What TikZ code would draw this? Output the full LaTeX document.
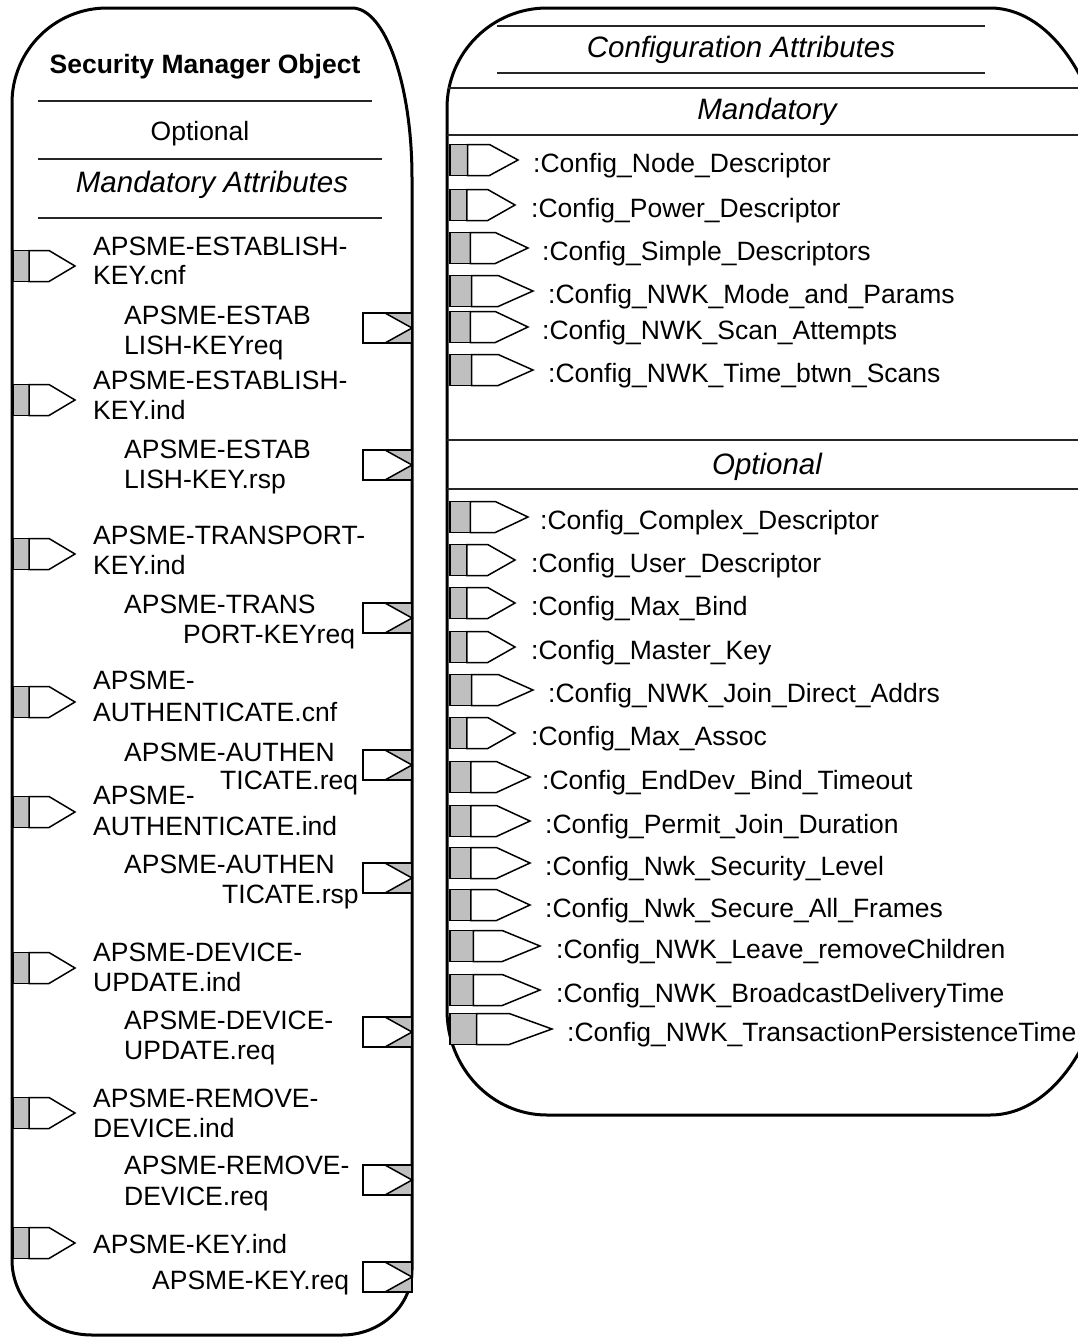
\documentclass[tikz,border=0pt]{standalone}
\usepackage{fontspec}
\setmainfont{Liberation Sans}
\newcommand\myinport[3]{%
  \pgfmathsetmacro\pa{#1+0.26*(#3-#1)}%
  \pgfmathsetmacro\pb{#1+0.58*(#3-#1)}%
  \fill[portgray] (#1,#2-15.5) rectangle (\pa,#2+15.5);
  \draw[portline] (\pa,#2-15.5) -- (#1,#2-15.5) -- (#1,#2+15.5) -- (\pa,#2+15.5);
  \draw[portline] (\pa,#2-15.5) -- (\pb,#2-15.5) -- (#3,#2) -- (\pb,#2+15.5) -- (\pa,#2+15.5) -- cycle;
}
\newcommand\myoutport[1]{%
  \fill[portgray] (385,#1-15) -- (412,#1-15) -- (412,#1) -- cycle;
  \fill[portgray] (385,#1+15) -- (412,#1+15) -- (412,#1) -- cycle;
  \draw[portline] (363,#1-15) rectangle (412,#1+15);
  \draw[portline] (385,#1-15) -- (412,#1) -- (385,#1+15);
}
\begin{document}
\begin{tikzpicture}[x=1pt,y=-1pt,
  outer/.style={line width=3pt, line join=round},
  sep/.style={line width=1.3pt, black!85},
  portline/.style={line width=1.5pt, line join=miter},
  portgray/.style={fill=black!25},
  lbl/.style={anchor=base west, inner sep=0pt, font=\fontsize{26.5}{30}\selectfont},
  head/.style={anchor=base, inner sep=0pt, font=\fontsize{29.5}{33}\selectfont\itshape},
  plain/.style={anchor=base, inner sep=0pt, font=\fontsize{26.5}{30}\selectfont}]
\useasboundingbox (0,0) rectangle (1078,1341);
\fill[white] (0,0) rectangle (1078,1341);
\clip (0,0) rectangle (1078,1341);

% ---------------- left box: Security Manager Object ----------------
\draw[outer] (12,103) .. controls (12,50.5) and (54.5,8) .. (107,8)
  -- (352,8) .. controls (385.1,8) and (412,84.1) .. (412,178)
  -- (412,1270) .. controls (412,1305.9) and (380.7,1335) .. (342,1335)
  -- (92,1335) .. controls (47.8,1335) and (12,1301.4) .. (12,1260) -- cycle;

\node[plain, font=\fontsize{26.5}{30}\selectfont\bfseries] (smo) at (205,73) {Security Manager Object};
\draw[sep] (38,101) -- (372,101);
\node[plain] (lopt) at (200,140) {Optional};
\draw[sep] (38,159) -- (382,159);
\node[head] (lmand) at (212,192.5) {Mandatory Attributes};
\draw[sep] (38,218) -- (382,218);

% input ports (left edge)
\myinport{13}{266}{75}
\myinport{13}{400}{75}
\myinport{13}{554}{75}
\myinport{13}{702}{75}
\myinport{13}{812}{75}
\myinport{13}{968}{75}
\myinport{13}{1113}{75}
\myinport{13}{1243}{75}
% output ports (right edge)
\myoutport{328}
\myoutport{465}
\myoutport{618}
\myoutport{765}
\myoutport{878}
\myoutport{1032}
\myoutport{1180}
\myoutport{1277}

\node[lbl] (a1) at (93,255.5) {APSME-ESTABLISH-};
\node[lbl] (a2) at (93,284.5) {KEY.cnf};
\node[lbl] (b1) at (124,324.5) {APSME-ESTAB};
\node[lbl] (b2) at (124,354.5) {LISH-KEYreq};
\node[lbl] (c1) at (93,389.5) {APSME-ESTABLISH-};
\node[lbl] (c2) at (93,419.5) {KEY.ind};
\node[lbl] (d1) at (124,458.5) {APSME-ESTAB};
\node[lbl] (d2) at (124,488.5) {LISH-KEY.rsp};
\node[lbl] (e1) at (93,544.5) {APSME-TRANSPORT-};
\node[lbl] (e2) at (93,574.5) {KEY.ind};
\node[lbl] (f1) at (124,613.5) {APSME-TRANS};
\node[lbl] (f2) at (183,643.5) {PORT-KEYreq};
\node[lbl] (g1) at (93,689.5) {APSME-};
\node[lbl] (g2) at (93,721.5) {AUTHENTICATE.cnf};
\node[lbl] (h1) at (124,761.5) {APSME-AUTHEN};
\node[lbl] (h2) at (220,789.5) {TICATE.req};
\node[lbl] (i1) at (93,804.5) {APSME-};
\node[lbl] (i2) at (93,835.5) {AUTHENTICATE.ind};
\node[lbl] (j1) at (124,873.5) {APSME-AUTHEN};
\node[lbl] (j2) at (222,903.5) {TICATE.rsp};
\node[lbl] (k1) at (93,961.5) {APSME-DEVICE-};
\node[lbl] (k2) at (93,991.5) {UPDATE.ind};
\node[lbl] (l1) at (124,1029.5) {APSME-DEVICE-};
\node[lbl] (l2) at (124,1059.5) {UPDATE.req};
\node[lbl] (m1) at (93,1107.5) {APSME-REMOVE-};
\node[lbl] (m2) at (93,1137.5) {DEVICE.ind};
\node[lbl] (n1) at (124,1174.5) {APSME-REMOVE-};
\node[lbl] (n2) at (124,1205.5) {DEVICE.req};
\node[lbl] (o1) at (93,1253.5) {APSME-KEY.ind};
\node[lbl] (p1) at (152,1289.5) {APSME-KEY.req};

% ---------------- right box: Configuration Attributes ----------------
\draw[outer] (447,108) .. controls (447,52.8) and (491.8,8) .. (547,8)
  -- (990,8) .. controls (1056.3,8) and (1110,97.5) .. (1110,208)
  -- (1110,925) .. controls (1110,1029.9) and (1056.3,1115) .. (990,1115)
  -- (547,1115) .. controls (491.8,1115) and (447,1068) .. (447,1010) -- cycle;

\draw[sep] (497,26) -- (985,26);
\node[head] (cfg) at (741,57) {Configuration Attributes};
\draw[sep] (497,73) -- (985,73);
\draw[sep] (448,88) -- (1080,88);
\node[head] (rmand) at (767,119) {Mandatory};
\draw[sep] (447,135) -- (1080,135);
\draw[sep] (447,440) -- (1080,440);
\node[head] (ropt) at (767,474) {Optional};
\draw[sep] (447,489) -- (1080,489);

\myinport{450}{160}{518}
\myinport{450}{205}{515}
\myinport{450}{248}{528}
\myinport{450}{291}{533}
\myinport{450}{327}{528}
\myinport{450}{370}{533}
\node[lbl] (r1) at (533,172) {:Config\_Node\_Descriptor};
\node[lbl] (r2) at (531,217) {:Config\_Power\_Descriptor};
\node[lbl] (r3) at (542,260) {:Config\_Simple\_Descriptors};
\node[lbl] (r4) at (548,303) {:Config\_NWK\_Mode\_and\_Params};
\node[lbl] (r5) at (542,339) {:Config\_NWK\_Scan\_Attempts};
\node[lbl] (r6) at (548,382) {:Config\_NWK\_Time\_btwn\_Scans};

\myinport{450}{517}{528}
\myinport{450}{560}{515}
\myinport{450}{603}{515}
\myinport{450}{647}{515}
\myinport{450}{690}{533}
\myinport{450}{733}{515}
\myinport{450}{777}{530}
\myinport{450}{821}{530}
\myinport{450}{863}{530}
\myinport{450}{905}{530}
\myinport{450}{946}{540}
\myinport{450}{990}{540}
\myinport{450}{1029}{552}
\node[lbl] (s1) at (540,529) {:Config\_Complex\_Descriptor};
\node[lbl] (s2) at (531,572) {:Config\_User\_Descriptor};
\node[lbl] (s3) at (531,615) {:Config\_Max\_Bind};
\node[lbl] (s4) at (531,659) {:Config\_Master\_Key};
\node[lbl] (s5) at (548,702) {:Config\_NWK\_Join\_Direct\_Addrs};
\node[lbl] (s6) at (531,745) {:Config\_Max\_Assoc};
\node[lbl] (s7) at (542,789) {:Config\_EndDev\_Bind\_Timeout};
\node[lbl] (s8) at (545,833) {:Config\_Permit\_Join\_Duration};
\node[lbl] (s9) at (545,875) {:Config\_Nwk\_Security\_Level};
\node[lbl] (s10) at (545,917) {:Config\_Nwk\_Secure\_All\_Frames};
\node[lbl] (s11) at (556,958) {:Config\_NWK\_Leave\_removeChildren};
\node[lbl] (s12) at (556,1002) {:Config\_NWK\_BroadcastDeliveryTime};
\node[lbl] (s13) at (567,1041) {:Config\_NWK\_TransactionPersistenceTime};
\end{tikzpicture}
\end{document}
